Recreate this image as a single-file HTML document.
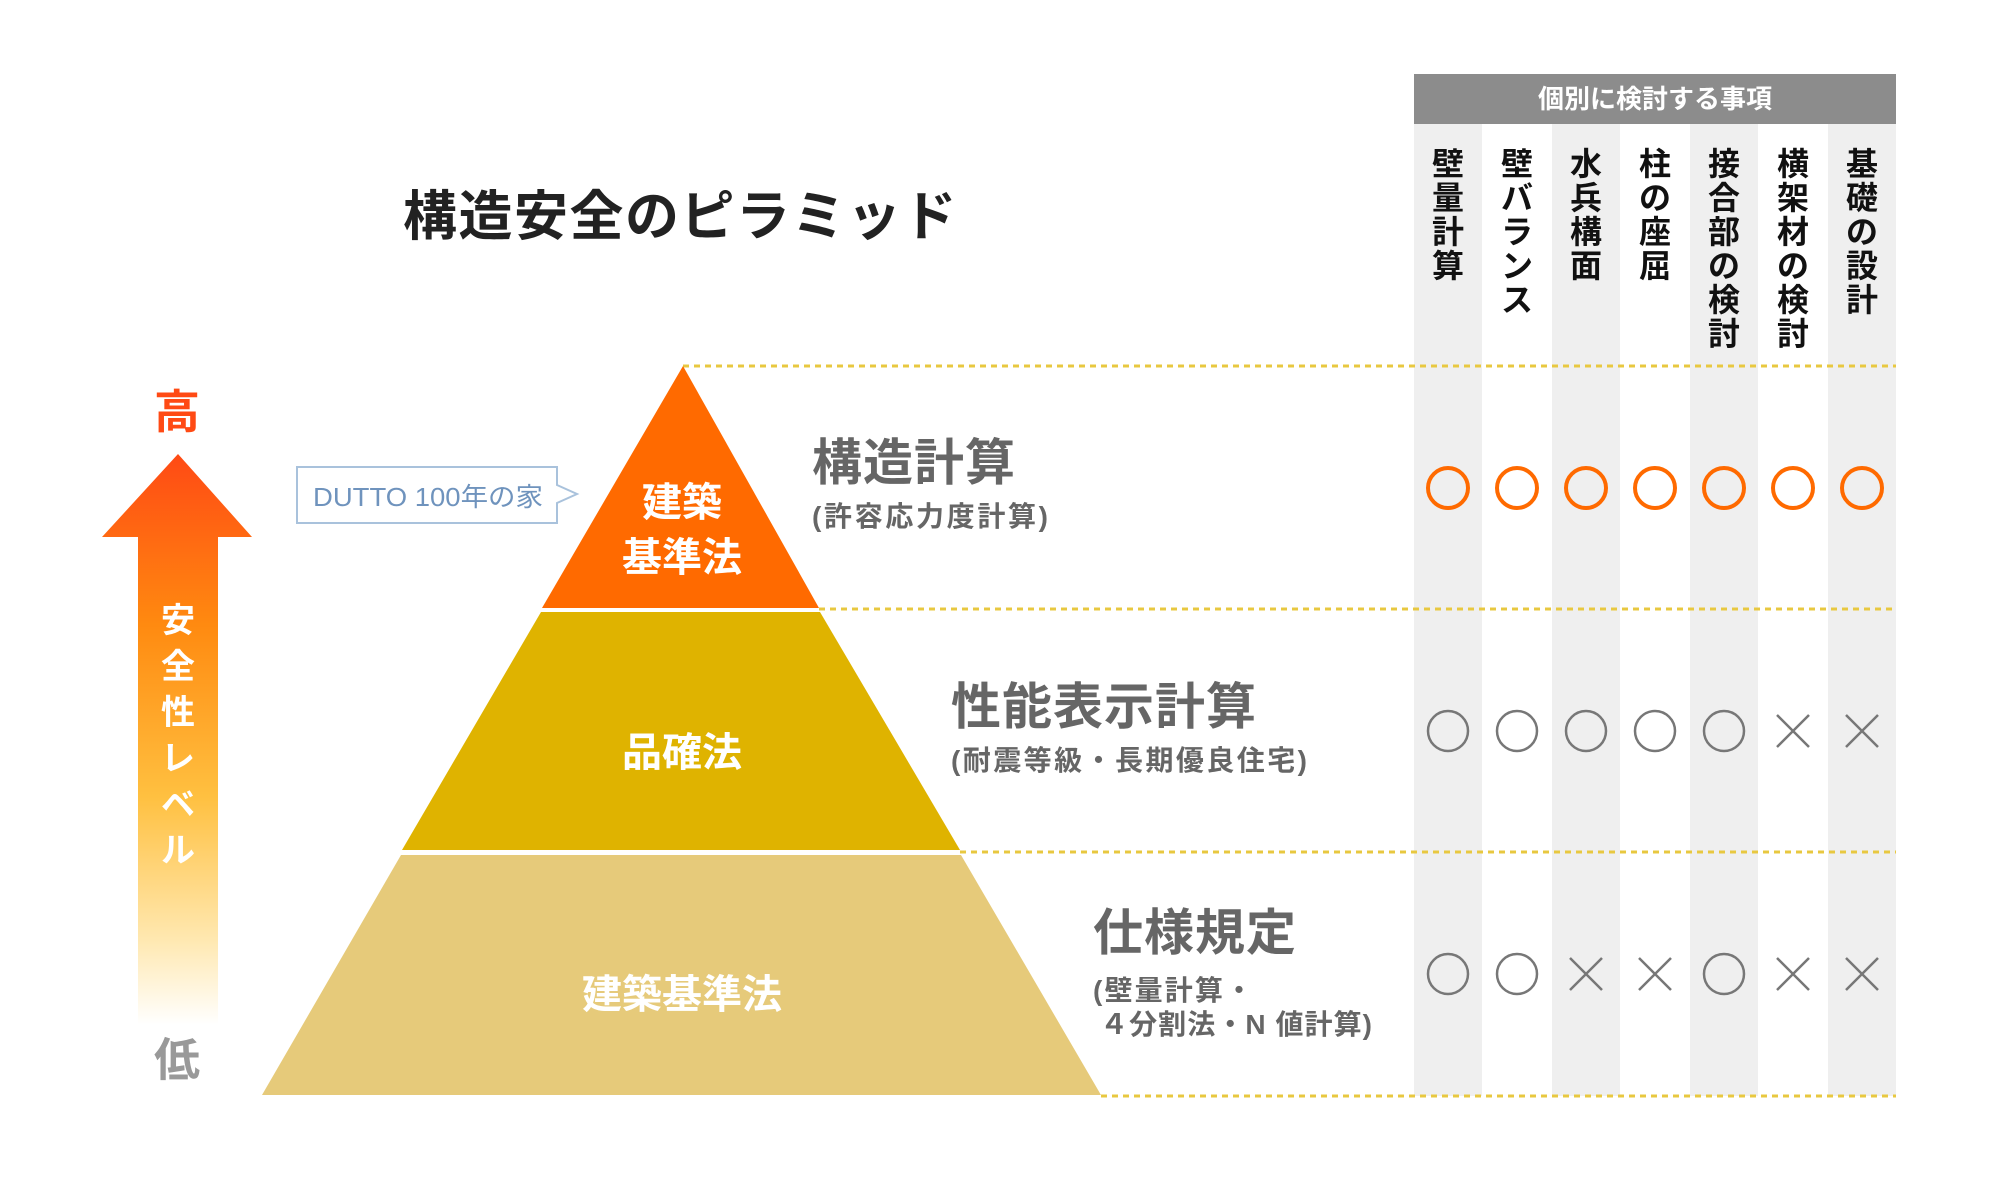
<!DOCTYPE html>
<html><head><meta charset="utf-8"><style>
html,body{margin:0;padding:0;background:#fff;}
svg{display:block}
text{font-family:"Liberation Sans","Noto Sans CJK JP",sans-serif;}
</style></head><body>
<svg width="2000" height="1200" viewBox="0 0 2000 1200" xmlns="http://www.w3.org/2000/svg">
<defs>
<linearGradient id="ag" x1="0" y1="0" x2="0" y2="1" gradientUnits="objectBoundingBox">
<stop offset="0" stop-color="#ff4a14"/>
<stop offset="0.3" stop-color="#ff8a10"/>
<stop offset="0.6" stop-color="#ffc040"/>
<stop offset="0.85" stop-color="#ffe8b0"/>
<stop offset="1" stop-color="#ffffff"/>
</linearGradient>
</defs>
<rect x="1414" y="124" width="68" height="972" fill="#efefef"/>
<rect x="1552" y="124" width="68" height="972" fill="#efefef"/>
<rect x="1690" y="124" width="68" height="972" fill="#efefef"/>
<rect x="1828" y="124" width="68" height="972" fill="#efefef"/>
<rect x="1414" y="74" width="482" height="50" fill="#8c8c8c"/>
<text x="1655" y="108" font-size="26" fill="#fff" text-anchor="middle" font-weight="bold">個別に検討する事項</text>
<g font-size="32" fill="#111" text-anchor="middle" font-weight="bold">
<text x="1448" y="175">壁</text><text x="1448" y="209">量</text><text x="1448" y="243">計</text><text x="1448" y="277">算</text>
<text x="1517" y="175">壁</text><text x="1517" y="209">バ</text><text x="1517" y="243">ラ</text><text x="1517" y="277">ン</text><text x="1517" y="311">ス</text>
<text x="1586" y="175">水</text><text x="1586" y="209">兵</text><text x="1586" y="243">構</text><text x="1586" y="277">面</text>
<text x="1655" y="175">柱</text><text x="1655" y="209">の</text><text x="1655" y="243">座</text><text x="1655" y="277">屈</text>
<text x="1724" y="175">接</text><text x="1724" y="209">合</text><text x="1724" y="243">部</text><text x="1724" y="277">の</text><text x="1724" y="311">検</text><text x="1724" y="345">討</text>
<text x="1793" y="175">横</text><text x="1793" y="209">架</text><text x="1793" y="243">材</text><text x="1793" y="277">の</text><text x="1793" y="311">検</text><text x="1793" y="345">討</text>
<text x="1862" y="175">基</text><text x="1862" y="209">礎</text><text x="1862" y="243">の</text><text x="1862" y="277">設</text><text x="1862" y="311">計</text>
</g>
<g stroke="#e8c840" stroke-width="3" stroke-dasharray="6,5">
<line x1="683" y1="366" x2="1896" y2="366"/>
<line x1="819" y1="609" x2="1896" y2="609"/>
<line x1="960" y1="852" x2="1896" y2="852"/>
<line x1="1101" y1="1096" x2="1896" y2="1096"/>
</g>
<text x="403" y="235" font-size="54" fill="#222" font-weight="bold" letter-spacing="1.5">構造安全のピラミッド</text>
<polygon points="683,366 819,608 542,608" fill="#ff6a00"/>
<polygon points="541,612 820,612 960,850 402,850" fill="#dfb300"/>
<polygon points="401,855 961,855 1101,1095 262,1095" fill="#e6ca7a"/>
<g fill="#fff" font-size="40" text-anchor="middle" font-weight="bold">
<text x="682" y="516">建築</text>
<text x="682" y="571">基準法</text>
<text x="682" y="766">品確法</text>
<text x="682" y="1008">建築基準法</text>
</g>
<g fill="#666" font-weight="bold">
<text x="812" y="480" font-size="50" letter-spacing="1">構造計算</text>
<text x="812" y="526" font-size="28" textLength="236" lengthAdjust="spacing">(許容応力度計算)</text>
<text x="951" y="724" font-size="50" letter-spacing="1">性能表示計算</text>
<text x="951" y="770" font-size="28" textLength="356" lengthAdjust="spacing">(耐震等級・長期優良住宅)</text>
<text x="1093" y="950" font-size="50" letter-spacing="1">仕様規定</text>
<text x="1093" y="1000" font-size="28" textLength="160" lengthAdjust="spacing">(壁量計算・</text>
<text x="1100" y="1034" font-size="28" textLength="272" lengthAdjust="spacing">４分割法・N 値計算)</text>
</g>
<g fill="none" stroke="#ff6a00" stroke-width="4">
<circle cx="1448" cy="488" r="20"/><circle cx="1517" cy="488" r="20"/><circle cx="1586" cy="488" r="20"/><circle cx="1655" cy="488" r="20"/><circle cx="1724" cy="488" r="20"/><circle cx="1793" cy="488" r="20"/><circle cx="1862" cy="488" r="20"/>
</g>
<g fill="none" stroke="#777" stroke-width="2.5">
<circle cx="1448" cy="731" r="20"/><circle cx="1517" cy="731" r="20"/><circle cx="1586" cy="731" r="20"/><circle cx="1655" cy="731" r="20"/><circle cx="1724" cy="731" r="20"/>
<path d="M1777,715 L1809,747 M1809,715 L1777,747"/>
<path d="M1846,715 L1878,747 M1878,715 L1846,747"/>
<circle cx="1448" cy="974" r="20"/><circle cx="1517" cy="974" r="20"/>
<path d="M1570,958 L1602,990 M1602,958 L1570,990"/>
<path d="M1639,958 L1671,990 M1671,958 L1639,990"/>
<circle cx="1724" cy="974" r="20"/>
<path d="M1777,958 L1809,990 M1809,958 L1777,990"/>
<path d="M1846,958 L1878,990 M1878,958 L1846,990"/>
</g>
<polygon points="178,454 252,537 218,537 218,1025 138,1025 138,537 102,537" fill="url(#ag)"/>
<text x="177" y="428" font-size="46" fill="#ff4a14" text-anchor="middle" font-weight="bold">高</text>
<text x="177" y="1076" font-size="46" fill="#999" text-anchor="middle" font-weight="bold">低</text>
<g fill="#fff" font-size="34" text-anchor="middle" font-weight="bold">
<text x="178" y="632">安</text><text x="178" y="678">全</text><text x="178" y="724">性</text><text x="178" y="770">レ</text><text x="178" y="816">ベ</text><text x="178" y="862">ル</text>
</g>
<path d="M297,467 L557,467 L557,485 L577,494 L557,503 L557,523 L297,523 Z" fill="#fff" stroke="#a9c2dc" stroke-width="2"/>
<text x="313" y="506" font-size="26" fill="#6f93bd" textLength="230" lengthAdjust="spacingAndGlyphs">DUTTO 100年の家</text>
</svg>
</body></html>
